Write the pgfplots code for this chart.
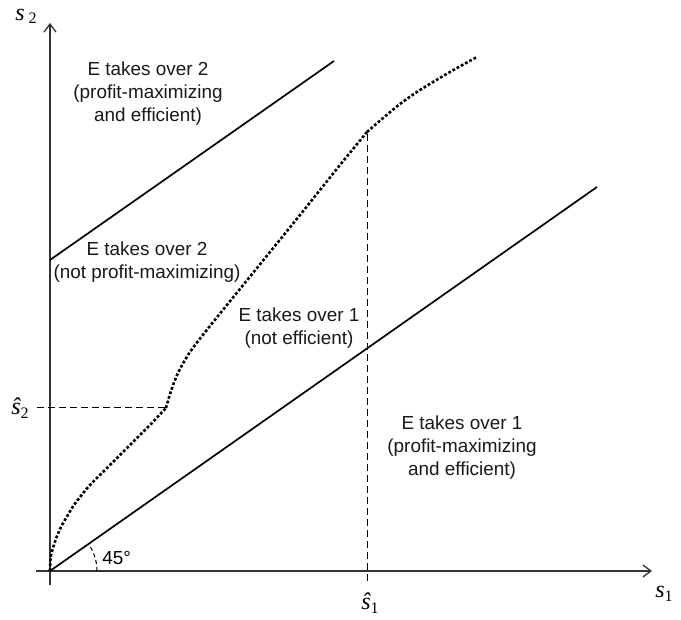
\documentclass[border=0pt]{standalone}
\usepackage{pgfplots}
\pgfplotsset{compat=1.18}
\usepackage{fontspec}
\setmainfont{Liberation Sans}
\newfontfamily\tms{Liberation Serif}
\usetikzlibrary{arrows.meta}
\definecolor{axcol}{HTML}{333333}
\begin{document}
\begin{tikzpicture}
\begin{axis}[scale only axis, width=340.5pt, height=310pt,
  xmin=-50, xmax=631, ymin=-49, ymax=571, hide axis, clip=false]
\path (rel axis cs:0,0) rectangle (rel axis cs:1,1);
% axes
\addplot[axcol, line width=0.65pt, -{Straight Barb[length=4pt,width=6pt]}] coordinates {(-14,0) (602,0)};
\addplot[axcol, line width=0.65pt, -{Straight Barb[length=4pt,width=6pt]}] coordinates {(0,-14) (0,548)};
% 45 degree line and parallel line
\addplot[black, line width=0.85pt] coordinates {(0,0) (547,384)};
\addplot[black, line width=0.85pt] coordinates {(0,311) (284,510)};
% dashed guides
\addplot[black, line width=0.5pt, dash pattern=on 3.5pt off 2pt] coordinates {(-13,163) (116,163)};
\addplot[black, line width=0.5pt, dash pattern=on 3.5pt off 2pt] coordinates {(317,-10) (317,439)};
% dotted boundary
\addplot[black, line width=1.3pt, dash pattern=on 1.4pt off 1.0pt, smooth] coordinates {
(0,0) (0.7,14) (3.3,24) (6.7,34) (11,44) (16.7,54) (23.3,65) (31.7,76) (40,86) (60,106) (80,126) (100,146) (116,163)};
\addplot[black, line width=1.3pt, dash pattern=on 1.4pt off 1.0pt, smooth] coordinates {
(116,163) (121,180) (128,198) (140,219) (160,245) (200,294.4) (250,356) (290,406) (317,439)};
\addplot[black, line width=1.3pt, dash pattern=on 1.4pt off 1.0pt, smooth] coordinates {
(317,439) (332,452) (350,467) (370,481) (400,499) (427,514)};
% angle arc
\draw[black, line width=0.5pt, dash pattern=on 2pt off 1.5pt] (axis cs:47,0) arc[start angle=0, end angle=35, radius=23.5pt];
\node[anchor=base west, inner sep=0pt, font=\fontsize{9.45}{11.5}\selectfont] at (axis cs:52,6) {45°};
% region labels
\node[align=center, font=\fontsize{9.45}{11.5}\selectfont, text=black!90] at (axis cs:98,477) {E takes over 2\\(profit-maximizing\\and efficient)};
\node[align=center, font=\fontsize{9.45}{11.5}\selectfont, text=black!90] at (axis cs:97,309) {E takes over 2\\(not profit-maximizing)};
\node[align=center, font=\fontsize{9.45}{11.5}\selectfont, text=black!90] at (axis cs:249,243) {E takes over 1\\(not efficient)};
\node[align=center, font=\fontsize{9.45}{11.5}\selectfont, text=black!90] at (axis cs:412,123) {E takes over 1\\(profit-maximizing\\and efficient)};
% axis labels
\node[anchor=base west, inner sep=0pt, font=\fontsize{12}{14}\selectfont] at (axis cs:-35,550) {{\tms\itshape s}\,\raisebox{-1.5pt}{\tms\fontsize{8}{9}\selectfont 2}};
\node[anchor=base west, inner sep=0pt, font=\fontsize{12}{14}\selectfont] at (axis cs:605,-27) {{\tms\itshape s}\raisebox{-1.8pt}{\tms\fontsize{8}{9}\selectfont 1}};
\node[anchor=base east, inner sep=0pt, font=\fontsize{12}{14}\selectfont] at (axis cs:-21,156) {{\tms\itshape ŝ}\raisebox{-1.8pt}{\tms\fontsize{8}{9}\selectfont 2}};
\node[anchor=base, inner sep=0pt, font=\fontsize{12}{14}\selectfont] at (axis cs:320,-39) {{\tms\itshape ŝ}\raisebox{-1.8pt}{\tms\fontsize{8}{9}\selectfont 1}};
\end{axis}
\end{tikzpicture}
\end{document}
